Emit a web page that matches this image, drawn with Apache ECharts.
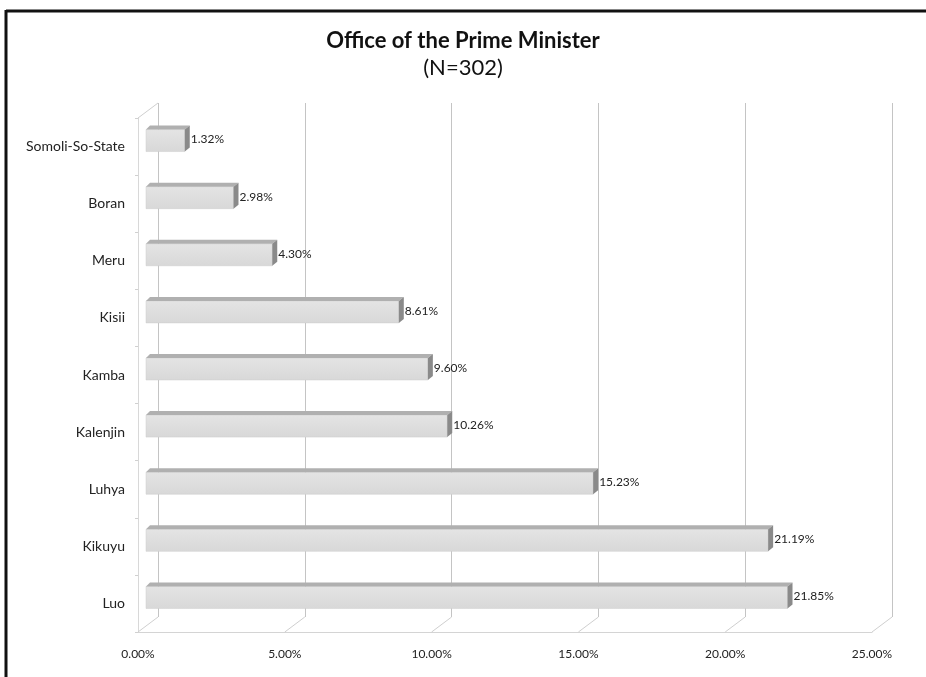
<!DOCTYPE html>
<html>
<head>
<meta charset="utf-8">
<script src="https://cdn.jsdelivr.net/npm/echarts@6/dist/echarts.min.js"></script>
<style>
html,body{margin:0;padding:0;background:#fff;}
#chart{width:926px;height:677px;}
</style>
</head>
<body>
<div id="chart"></div>
<script>
// Data
var categories = ['Luo', 'Kikuyu', 'Luhya', 'Kalenjin', 'Kamba', 'Kisii', 'Meru', 'Boran', 'Somoli-So-State'];
var values = [21.85, 21.19, 15.23, 10.26, 9.60, 8.61, 4.30, 2.98, 1.32];
var tickValues = [0, 5, 10, 15, 20, 25];
var titleText = 'Office of the Prime Minister';
var subtitleText = '(N=302)';

var DEPTH_X = 20, DEPTH_Y = -15;   // floor depth of the 3D box
var BAR_DX = 8, BAR_DY = -6;       // bar position inside depth
var BAR_H = 22, BAR_D = 5, BAR_DT = 4; // bar height and bar depth

var chart = echarts.init(document.getElementById('chart'));

var fontFam = 'Lato, "Open Sans", sans-serif';

var option = {
  backgroundColor: '#ffffff',
  animation: false,
  title: [
    {text: titleText, left: 'center', top: 25,
     textStyle: {fontFamily: fontFam, fontWeight: 'bold', fontSize: 22, color: '#111'}},
    {text: subtitleText, left: 'center', top: 52,
     textStyle: {fontFamily: fontFam, fontWeight: 'normal', fontSize: 22, color: '#111'}}
  ],
  grid: [
    {left: 138, top: 118, width: 734, height: 514},
    {left: 158, top: 103, width: 734, height: 514}
  ],
  xAxis: [
    {type: 'value', gridIndex: 0, min: 0, max: 25, interval: 5,
     axisLine: {show: true, lineStyle: {color: '#d4d4d4'}},
     axisTick: {show: false},
     splitLine: {show: false},
     axisLabel: {margin: 16, fontFamily: fontFam, fontSize: 12, color: '#222',
                 formatter: function (v) { return v.toFixed(2) + '%'; }}},
    {type: 'value', gridIndex: 1, min: 0, max: 25, interval: 5,
     axisLine: {show: false}, axisTick: {show: false}, axisLabel: {show: false},
     splitLine: {show: true, lineStyle: {color: '#c4c4c4', width: 1}}}
  ],
  yAxis: [
    {type: 'category', gridIndex: 0, data: categories,
     axisLine: {show: true, lineStyle: {color: '#d8d8d8'}},
     axisTick: {show: true, length: 3, lineStyle: {color: '#d0d0d0'}},
     axisLabel: {margin: 13, fontFamily: fontFam, fontSize: 14, color: '#222'}},
    {type: 'category', gridIndex: 1, data: categories, show: false}
  ],
  graphic: [
    {type: 'line', shape: {x1: 6, y1: 11, x2: 926, y2: 11}, style: {stroke: '#111', lineWidth: 3}, z: 100},
    {type: 'line', shape: {x1: 6, y1: 10, x2: 6, y2: 677}, style: {stroke: '#111', lineWidth: 3}, z: 100}
  ],
  series: [
    {
      // floor / wall depth edges
      type: 'custom', xAxisIndex: 0, yAxisIndex: 0, silent: true, z: 1,
      data: tickValues,
      renderItem: function (params, api) {
        var cs = params.coordSys;
        var v = api.value(0);
        var x = api.coord([v, 0])[0];
        var bottom = cs.y + cs.height;
        var children = [{
          type: 'line',
          shape: {x1: x, y1: bottom, x2: x + DEPTH_X, y2: bottom + DEPTH_Y},
          style: {stroke: '#cfcfcf', lineWidth: 1}
        }];
        if (params.dataIndex === 0) {
          children.push({
            type: 'line',
            shape: {x1: cs.x, y1: cs.y, x2: cs.x + DEPTH_X, y2: cs.y + DEPTH_Y},
            style: {stroke: '#cfcfcf', lineWidth: 1}
          });
        }
        return {type: 'group', children: children};
      }
    },
    {
      type: 'custom', xAxisIndex: 0, yAxisIndex: 0, z: 5,
      data: values.map(function (v, i) { return [v, i]; }),
      encode: {x: 0, y: 1},
      renderItem: function (params, api) {
        var v = api.value(0);
        var idx = api.value(1);
        var p0 = api.coord([0, idx]);
        var p1 = api.coord([v, idx]);
        var x0 = p0[0] + BAR_DX;
        var x1 = p1[0] + BAR_DX;
        var cy = p0[1] + BAR_DY;
        var yT = cy - BAR_H / 2;
        var yB = cy + BAR_H / 2;
        return {
          type: 'group',
          children: [
            {type: 'rect', shape: {x: x0, y: yT, width: x1 - x0, height: BAR_H},
             style: {fill: new echarts.graphic.LinearGradient(0, 0, 0, 1, [
               {offset: 0, color: '#e4e4e4'}, {offset: 1, color: '#d8d8d8'}]),
               stroke: '#cdcdcd', lineWidth: 0.5}},
            {type: 'polygon', shape: {points: [[x0, yT], [x0 + BAR_DT, yT - BAR_DT], [x1 + BAR_D, yT - BAR_DT], [x1, yT]]},
             style: {fill: '#b0b0b0'}},
            {type: 'polygon', shape: {points: [[x1, yT], [x1 + BAR_D, yT - BAR_DT], [x1 + BAR_D, yB - BAR_DT], [x1, yB]]},
             style: {fill: '#8a8a8a'}},
            {type: 'text', style: {
              x: x1 + BAR_D + 1, y: cy - 1,
              text: v.toFixed(2) + '%',
              textAlign: 'left', textVerticalAlign: 'middle',
              font: '12px ' + fontFam, fill: '#222'}}
          ]
        };
      }
    }
  ]
};
chart.setOption(option);
</script>
</body>
</html>
